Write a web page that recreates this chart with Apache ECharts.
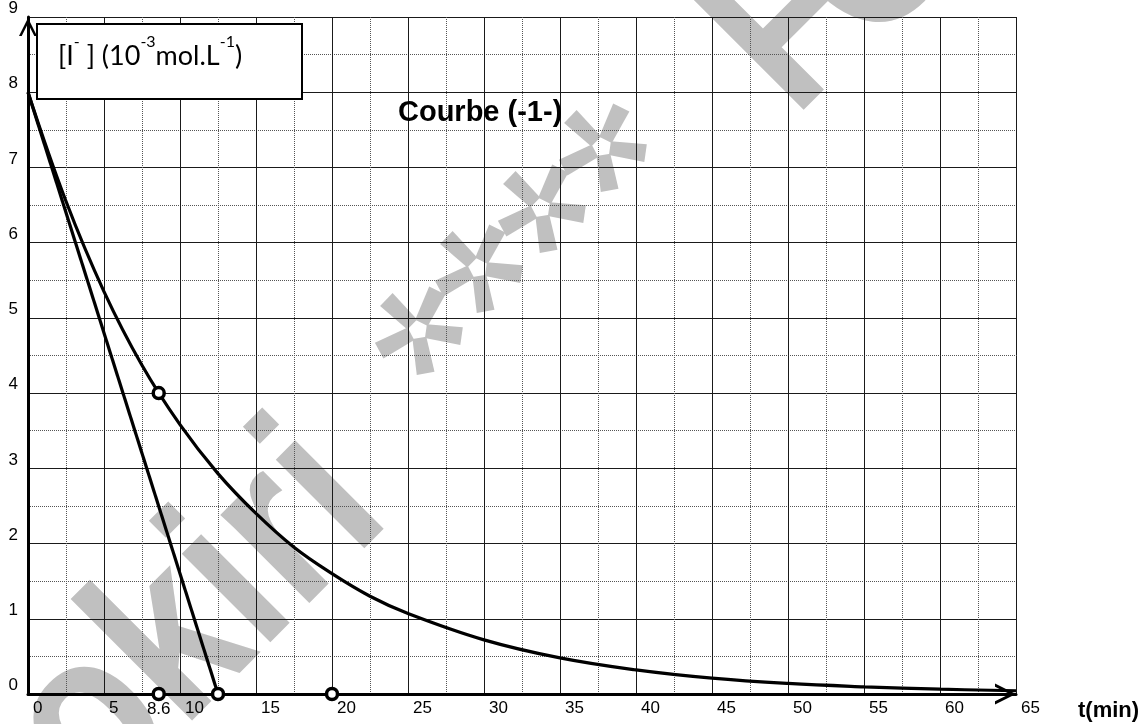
<!DOCTYPE html>
<html>
<head>
<meta charset="utf-8">
<script src="https://cdn.jsdelivr.net/npm/echarts@6/dist/echarts.min.js"></script>
<style>
  html, body { margin: 0; padding: 0; background: #fff; }
  #chart { width: 1147px; height: 724px; }
</style>
</head>
<body>
<div id="chart"></div>
<script>
// Courbe (-1-) : [I-] (10^-3 mol/L) en fonction de t (min)
const tValues = [0, 2.5, 5, 7.5, 10, 12.5, 15, 17.5, 20, 22.5, 25, 30, 35, 40, 45, 50, 55, 60, 65];
const iodideValues = [8, 6.55, 5.35, 4.37, 3.58, 2.93, 2.4, 1.95, 1.6, 1.3, 1.07, 0.72, 0.48, 0.32, 0.21, 0.14, 0.096, 0.064, 0.043];

// tangente a l'origine
const tangentT = [0, 12.5];
const tangentValues = [8, 0];

// points marques (cercles)
const markT = [8.6, 8.6, 12.5, 20];
const markValues = [4, 0, 0, 0];

// graduations
const xTicks = [0, 5, 10, 15, 20, 25, 30, 35, 40, 45, 50, 55, 60, 65];
const yTicks = [0, 1, 2, 3, 4, 5, 6, 7, 8, 9];

const chevron = 'path://M10,0L20,20L17,20L10,6L3,20L0,20Z';
const axisFont = '"Liberation Sans", Arial, sans-serif';
const markGray = '#c0c0c0';
const markFont = 'bold 237px "Liberation Sans", Arial, sans-serif';

// etoile a 5 branches du filigrane
function starArms() {
  const arms = [];
  for (let k = 0; k < 5; k++) {
    const a = (-136 + 72 * k) * Math.PI / 180;
    const c = Math.cos(a), s = Math.sin(a);
    arms.push({
      type: 'polygon',
      silent: true,
      shape: {
        points: [[8, -7], [44, -9], [44, 9], [8, 7]].map(([r, w]) => [r * c - w * s, r * s + w * c])
      },
      style: { fill: markGray }
    });
  }
  return arms;
}
const starCenters = [[418, 330], [478, 268], [541, 208], [602, 147]];

const chart = echarts.init(document.getElementById('chart'));

function markText(text, x, y) {
  return {
    type: 'text', silent: true, z: -1,
    x: x, y: y, rotation: Math.PI / 4, scaleX: 0.84,
    style: { text: text, font: markFont, fill: markGray, textAlign: 'left', textVerticalAlign: 'middle' }
  };
}

const watermark = [
  markText('okiri', 50, 770),
  markText('F', 748, 73),
  markText('C', 822, 8)
].concat(starCenters.map(([x, y]) => ({
  type: 'group', silent: true, z: -1, x: x, y: y,
  children: starArms()
})));

const option = {
  backgroundColor: '#fff',
  animation: false,
  grid: { left: 28, right: 131, top: 11, bottom: 30 },
  xAxis: {
    type: 'value',
    min: xTicks[0],
    max: xTicks[xTicks.length - 1],
    interval: xTicks[1] - xTicks[0],
    axisLine: {
      show: true,
      onZero: false,
      lineStyle: { color: '#000', width: 3 },
      symbol: ['none', chevron],
      symbolSize: [22, 21],
      symbolOffset: [0, -10.5]
    },
    axisTick: { show: false },
    minorTick: { show: false, splitNumber: 2 },
    axisLabel: {
      color: '#000',
      fontFamily: axisFont,
      fontSize: 17,
      align: 'left',
      padding: [0, 0, 0, 5],
      margin: 6
    },
    splitLine: { show: true, lineStyle: { color: '#1a1a1a', width: 1 } },
    minorSplitLine: { show: true, lineStyle: { color: '#555', width: 1, type: [1, 1] } }
  },
  yAxis: {
    type: 'value',
    min: yTicks[0],
    max: yTicks[yTicks.length - 1],
    interval: yTicks[1] - yTicks[0],
    axisLine: {
      show: true,
      onZero: false,
      lineStyle: { color: '#000', width: 3 },
      symbol: ['none', chevron],
      symbolSize: [18, 20],
      symbolOffset: [0, -10]
    },
    axisTick: { show: false },
    minorTick: { show: false, splitNumber: 2 },
    axisLabel: {
      color: '#000',
      fontFamily: axisFont,
      fontSize: 17,
      verticalAlign: 'bottom',
      margin: 10
    },
    splitLine: { show: true, lineStyle: { color: '#1a1a1a', width: 1 } },
    minorSplitLine: { show: true, lineStyle: { color: '#555', width: 1, type: [1, 1] } }
  },
  graphic: watermark.concat([
    {
      type: 'rect',
      z: 100,
      shape: { x: 37, y: 24, width: 265, height: 75 },
      style: { fill: '#fff', stroke: '#000', lineWidth: 2 }
    },
    {
      type: 'text',
      z: 101,
      x: 58,
      y: 56,
      style: {
        text: '{n|[I}{s|-}{n| ] (10}{s|-3}{n|mol.L}{s|-1}{n|)}',
        fill: '#000',
        textAlign: 'left',
        textVerticalAlign: 'middle',
        rich: {
          n: { fontFamily: 'Lato, sans-serif', fontSize: 27, lineHeight: 44, fill: '#000' },
          s: { fontFamily: 'Lato, sans-serif', fontSize: 16, lineHeight: 16, verticalAlign: 'top', fill: '#000' }
        }
      }
    },
    {
      type: 'text',
      z: 101,
      x: 398,
      y: 113,
      style: {
        text: 'Courbe (-1-)',
        font: 'bold 29px "Liberation Sans", Arial, sans-serif',
        fill: '#000',
        textAlign: 'left',
        textVerticalAlign: 'middle'
      }
    },
    {
      type: 'text',
      z: 101,
      x: 1078,
      y: 711,
      style: {
        text: 't(min)',
        font: 'bold 22px "Liberation Sans", Arial, sans-serif',
        fill: '#000',
        textAlign: 'left',
        textVerticalAlign: 'middle'
      }
    }
  ]),
  series: [
    {
      name: 'courbe',
      type: 'line',
      z: 3,
      smooth: 0.4,
      showSymbol: false,
      silent: true,
      lineStyle: { color: '#000', width: 3.2 },
      data: tValues.map((t, i) => [t, iodideValues[i]])
    },
    {
      name: 'tangente',
      type: 'line',
      z: 3,
      showSymbol: false,
      silent: true,
      lineStyle: { color: '#000', width: 3.2 },
      data: tangentT.map((t, i) => [t, tangentValues[i]])
    },
    {
      name: 'points',
      type: 'scatter',
      z: 4,
      symbol: 'circle',
      symbolSize: 11,
      silent: true,
      itemStyle: { color: '#fff', borderColor: '#000', borderWidth: 3.5, opacity: 1 },
      data: markT.map((t, i) => ({
        value: [t, markValues[i]],
        label: {
          show: i === 1,
          position: 'bottom',
          distance: 0,
          formatter: (p) => String(p.value[0]),
          color: '#000',
          fontFamily: axisFont,
          fontSize: 17
        }
      }))
    }
  ]
};

chart.setOption(option);
</script>
</body>
</html>
